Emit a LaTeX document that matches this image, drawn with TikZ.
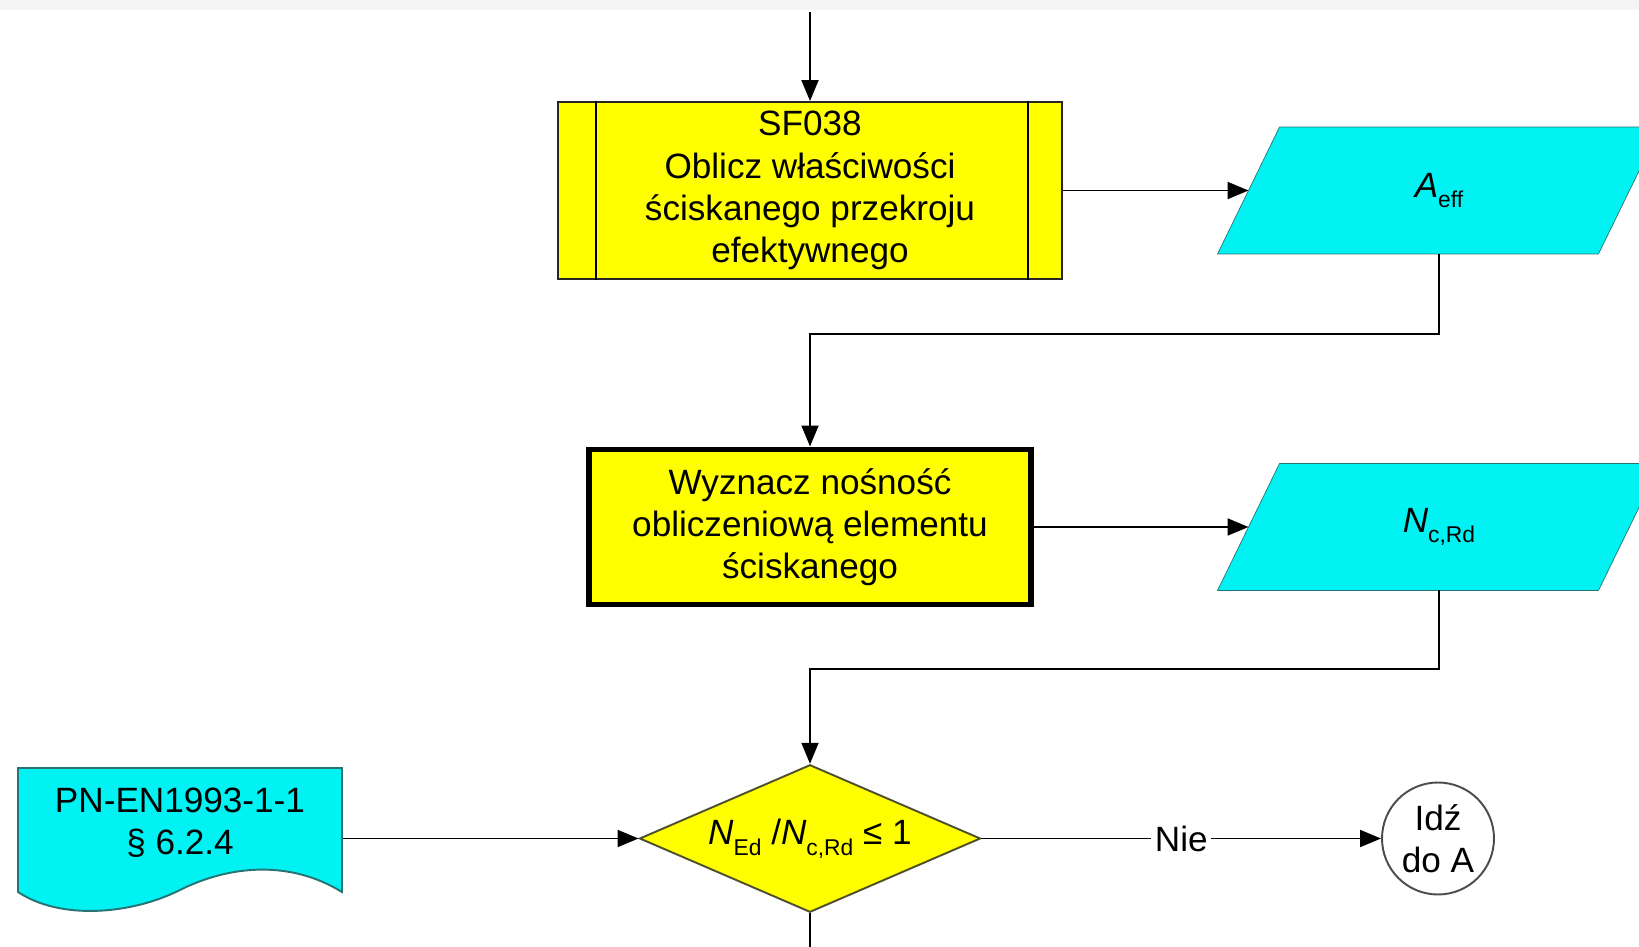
\documentclass[tikz,border=0pt]{standalone}
\usepackage{fontspec}
\setmainfont{Liberation Sans}
\usepackage{tikz}
\usetikzlibrary{calc}
\usetikzlibrary{shapes}
\usetikzlibrary{arrows.meta}
\usetikzlibrary{backgrounds}

\definecolor{blockyellow}{RGB}{255,255,0}
\definecolor{datacyan}{RGB}{0,242,242}
\definecolor{dataedge}{RGB}{40,115,115}
\definecolor{ruleedge}{RGB}{80,80,45}

\newcommand{\lowidx}[1]{\raisebox{-0.3em}{\fontsize{13}{13}\selectfont #1}}

\begin{document}
\begin{tikzpicture}[
  font = \fontsize{20}{24}\selectfont,
  line width = 1.1pt,
  >={Triangle[length = 0.42cm, width = 0.34cm]},
  procbox/.style = {rectangle, draw = black!85, fill = blockyellow, minimum width = 10.08cm, minimum height = 3.54cm, align = center},
  calcbox/.style = {rectangle, draw = black, line width = 3.4pt, fill = blockyellow, minimum width = 8.84cm, minimum height = 3.1cm, align = center},
  datatext/.style = {rectangle, minimum width = 6.34cm, minimum height = 2.5cm},
  dataline/.style = {draw = dataedge, fill = datacyan},
  decision/.style = {diamond, aspect = 2.31, draw = ruleedge, fill = blockyellow, minimum width = 6.82cm, minimum height = 2.95cm, inner sep = 0pt},
  jump/.style = {circle, draw = black!70, minimum size = 2.24cm, inner sep = 0pt, align = center},
  docnode/.style = {rectangle, minimum width = 6.48cm, minimum height = 2.48cm, align = center}
]
\useasboundingbox (0,0) rectangle (32.78,-18.94);
\clip (0,0) rectangle (32.78,-18.94);
\begin{scope}[on background layer]
\fill[white] (0,0) rectangle (32.78,-18.94);
\fill[black!4] (0,0) rectangle (32.78,-0.21);
\end{scope}

\draw (16.2,-3.81) node[procbox, name = b1]{SF038\\Oblicz właściwości\\ściskanego przekroju\\efektywnego};
\draw ([xshift = 0.78cm]b1.north west) -- ([xshift = 0.78cm]b1.south west);
\draw ([xshift = -0.7cm]b1.north east) -- ([xshift = -0.7cm]b1.south east);
\coordinate (start) at (16.2,-0.25);
\draw[->] (start) -- (b1);

\draw (b1) + (12.58,0) node[datatext, name = p1]{\textit{A}\lowidx{eff}};
\draw[->] (b1) -- ([xshift = -0.62cm]p1.west);

\draw (b1) + (0,-6.73) node[calcbox, name = b2]{Wyznacz nośność\\obliczeniową elementu\\ściskanego};
\draw[->] (p1.south) -- +(0,-1.61) -| (b2.north);

\draw (b2) + (12.58,0) node[datatext, name = p2]{\textit{N}\lowidx{c,Rd}};
\draw[->] (b2) -- ([xshift = -0.62cm]p2.west);

% parallelograms behind the data labels
\begin{scope}[on background layer]
\foreach \p in {p1, p2}
  \filldraw[dataline] ([xshift = -1.24cm]\p.south west) -- (\p.south east) -- ([xshift = 1.24cm]\p.north east) -- (\p.north west) -- cycle;
\end{scope}

\draw (b2) + (0,-6.23) node[decision, name = d]{\textit{N}\lowidx{Ed} /\textit{N}\lowidx{c,Rd} ≤ 1};
\draw[->] (p2.south) -- +(0,-1.57) -| (d.north);

\draw (d) + (12.56,0) node[jump, name = g]{Idź\\do A};
\draw[->] (d) -- node[midway, fill = white, inner sep = 2pt]{Nie} (g);

\coordinate (next) at (16.2,-18.94);
\draw (d.south) -- (next);

% document shape with wavy bottom edge
\filldraw[dataline] (0.36,-15.36) -- (6.84,-15.36) -- (6.84,-17.84) .. controls +(-1.04,0.64) and +(1,0.5) .. (3.6,-17.8) .. controls +(-1,-0.5) and +(0.84,-0.56) .. (0.36,-17.84) -- cycle;
\draw (3.6,-16.45) node[docnode, name = ref]{PN-EN1993-1-1\\§ 6.2.4};
\draw[->] (ref.east |- d) -- (d);
\end{tikzpicture}
\end{document}
